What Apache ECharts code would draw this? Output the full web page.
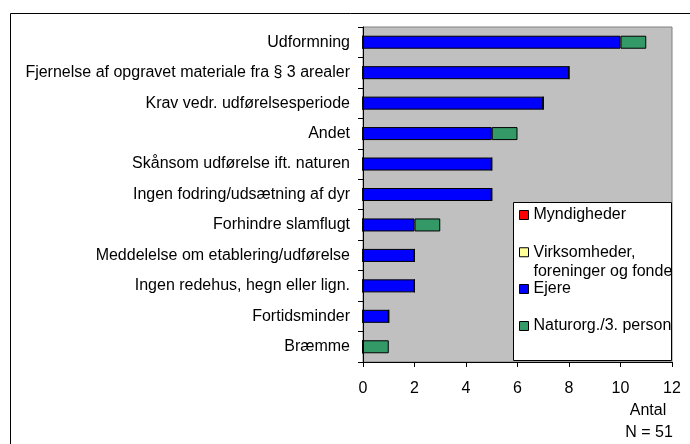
<!DOCTYPE html>
<html>
<head>
<meta charset="utf-8">
<script src="https://cdn.jsdelivr.net/npm/echarts@6/dist/echarts.min.js"></script>
<style>html,body{margin:0;padding:0;background:#fff;}#chart{width:690px;height:444px;}</style>
</head>
<body>
<div id="chart"></div>
<script>
const categories = [
  'Udformning',
  'Fjernelse af opgravet materiale fra § 3 arealer',
  'Krav vedr. udførelsesperiode',
  'Andet',
  'Skånsom udførelse ift. naturen',
  'Ingen fodring/udsætning af dyr',
  'Forhindre slamflugt',
  'Meddelelse om etablering/udførelse',
  'Ingen redehus, hegn eller lign.',
  'Fortidsminder',
  'Bræmme'
];
const myndigheder = [0,0,0,0,0,0,0,0,0,0,0];
const virksomheder = [0,0,0,0,0,0,0,0,0,0,0];
const ejere = [10,8,7,5,5,5,2,2,2,1,0];
const naturorg = [1,0,0,1,0,0,1,0,0,0,1];
const seriesNames = ['Myndigheder','Virksomheder, foreninger og fonde','Ejere','Naturorg./3. person'];
const xTicks = [0,2,4,6,8,10,12];
const axisTitle = ['Antal','N = 51'];

const FONT = 'Liberation Sans, Arial, sans-serif';
const FS = 16;
const colors = ['#FF0000','#FFFF99','#0000FF','#339966'];
const values = [myndigheder, virksomheder, ejere, naturorg];

const chart = echarts.init(document.getElementById('chart'), null, {renderer:'canvas'});

function mkLegend(i, top, extra) {
  return Object.assign({
    data: [seriesNames[i]],
    left: 519,
    top: top,
    padding: 0,
    z: 20,
    itemWidth: 9,
    itemHeight: 9,
    icon: 'rect',
    selectedMode: false,
    itemStyle: {borderColor:'#000', borderWidth:1},
    textStyle: {fontFamily: FONT, fontSize: FS, color:'#000', lineHeight: 18}
  }, extra || {});
}

const option = {
  animation: false,
  backgroundColor: '#fff',
  grid: {
    left: 363, right: 18, top: 27, bottom: 82,
    show: true, backgroundColor: '#C0C0C0', borderColor: '#808080', borderWidth: 1
  },
  xAxis: {
    type: 'value', min: 0, max: 12, interval: 2,
    axisLine: {show: true, lineStyle: {color:'#000', width: 1}},
    axisTick: {show: true, length: 5, lineStyle: {color:'#000'}},
    splitLine: {show: false},
    axisLabel: {fontFamily: FONT, fontSize: FS, color:'#000', margin: 19,
      formatter: v => xTicks.indexOf(v) >= 0 ? String(v) : ''}
  },
  yAxis: {
    type: 'category', data: categories, inverse: true,
    axisLine: {show: true, lineStyle: {color:'#000', width: 1}},
    axisTick: {show: true, length: 5, lineStyle: {color:'#000'}},
    axisLabel: {fontFamily: FONT, fontSize: FS, color:'#000', margin: 13}
  },
  legend: [
    mkLegend(0, 206),
    mkLegend(1, 223, {formatter: () => ' \nVirksomheder,\nforeninger og fonde',
      textStyle: {fontFamily: FONT, fontSize: FS, color:'#000', lineHeight: 19.5}}),
    mkLegend(2, 280),
    mkLegend(3, 317)
  ],
  graphic: [
    {type:'rect', z: -10, shape:{x:10.5, y:13.5, width: 700, height: 460}, style:{fill:'none', stroke:'#000', lineWidth:1}},
    {type:'rect', z: 3, shape:{x:513.5, y:202.5, width: 158, height: 158}, style:{fill:'#fff', stroke:'#000', lineWidth:1}},
    {type:'text', z: 10, x: 648, y: 411, style:{text: axisTitle[0], font: FS + 'px ' + FONT, fill:'#000', textAlign:'center', textVerticalAlign:'middle'}},
    {type:'text', z: 10, x: 649, y: 433, style:{text: axisTitle[1], font: FS + 'px ' + FONT, fill:'#000', textAlign:'center', textVerticalAlign:'middle'}}
  ],
  series: values.map((d, i) => ({
    name: seriesNames[i],
    type: 'bar',
    stack: 'total',
    data: d,
    barWidth: 13,
    itemStyle: {color: colors[i], borderColor:'#000', borderWidth: 1},
    z: 2
  }))
};
chart.setOption(option);
</script>
</body>
</html>
